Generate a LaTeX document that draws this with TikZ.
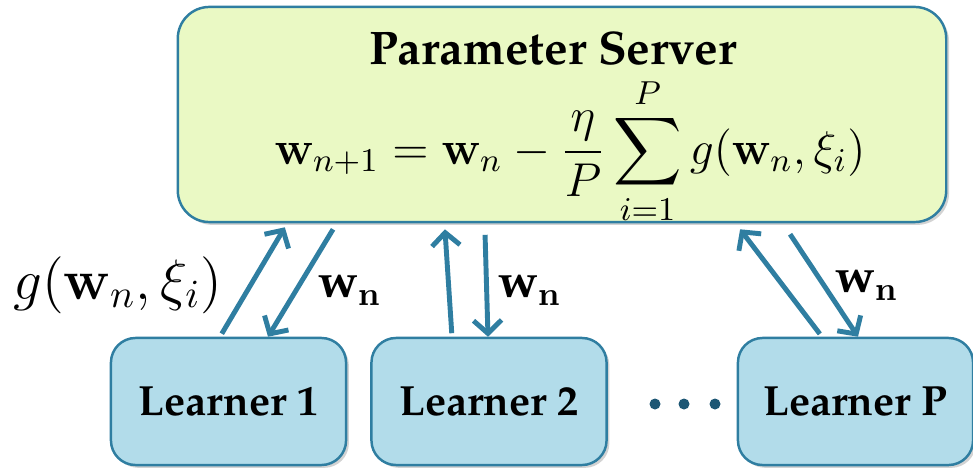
\documentclass[tikz,border=0pt]{standalone}
\usepackage{fix-cm}
\usepackage{amsmath,amssymb,bm}
\usepackage[T1]{fontenc}
\usepackage{tikz}
\usetikzlibrary{arrows.meta,positioning,calc,shadows}
\definecolor{srvfill}{RGB}{234,249,196}
\definecolor{lrnfill}{RGB}{178,220,234}
\definecolor{edgeblue}{RGB}{47,126,161}
\definecolor{dotblue}{RGB}{28,86,116}
\newcommand{\pala}{\fontfamily{ppl}\selectfont}

\begin{document}
\begin{tikzpicture}[
    x=0.01cm,
    y=-0.01cm,
    >={Straight Barb[length=1.3mm,width=2.8mm]},
    srv/.style={
        rounded corners=9pt,
        draw=edgeblue,
        line width=0.7pt,
        fill=srvfill,
        minimum width=7.68cm,
        minimum height=2.15cm,
        drop shadow={shadow xshift=0.8pt,shadow yshift=-0.8pt,opacity=0.35}
    },
    lrn/.style={
        rounded corners=7pt,
        draw=edgeblue,
        line width=0.7pt,
        fill=lrnfill,
        minimum width=2.35cm,
        minimum height=1.27cm,
        font=\pala\bfseries\fontsize{12}{14}\selectfont,
        drop shadow={shadow xshift=0.8pt,shadow yshift=-0.8pt,opacity=0.35}
    },
    link/.style={
        ->,
        line width=1.4pt,
        edgeblue,
        shorten <=1pt
    },
    lbl/.style={
        inner sep=0pt,
        font=\pala\bfseries\fontsize{13.5}{16}\selectfont
    }
]
\useasboundingbox (0,0) rectangle (973,470);

% server
\node[srv] (server) at (562,114.5) {};
\node[inner sep=0pt,font=\pala\bfseries\fontsize{13.4}{16}\selectfont] (title) at (553,48) {Parameter Server};
\node[inner sep=0pt,font=\fontsize{13.5}{16}\selectfont] (rule) at (570,151) {%
    $\displaystyle \mathbf{w}_{n+1}=\mathbf{w}_n-\frac{\eta}{P}\sum_{i=1}^{P} g(\mathbf{w}_n,\xi_i)$};

% learners
\node[lrn] (l1) at (228.5,401.5) {Learner 1};
\node[lrn] (l2) at (489,401.5) {Learner 2};
\node[lrn] (lp) at (855.5,401.5) {Learner P};

\foreach \i/\x in {1/655,2/684,3/715}
    \node[circle,fill=dotblue,inner sep=0pt,minimum size=1.1mm] (d\i) at (\x,404) {};

% links
\draw[link] ([xshift=-0.085cm]l1.north) -- ([xshift=-2.77cm,yshift=-0.04cm]server.south);
\draw[link] ([xshift=-2.27cm,yshift=-0.03cm]server.south) -- ([xshift=0.395cm]l1.north);
\draw[link] ([xshift=-0.37cm]l2.north) -- ([xshift=-1.17cm,yshift=-0.06cm]server.south);
\draw[link] ([xshift=-0.77cm,yshift=-0.08cm]server.south) -- ([xshift=-0.01cm]l2.north);
\draw[link] ([xshift=-0.335cm]lp.north) -- ([xshift=1.78cm,yshift=-0.06cm]server.south);
\draw[link] ([xshift=2.26cm,yshift=-0.08cm]server.south) -- ([xshift=0.025cm]lp.north);

% labels
\node[inner sep=0pt,font=\fontsize{16.2}{19}\selectfont] (grad) at (118,285) {$g(\mathbf{w}_n,\xi_i)$};
\node[lbl] (w1) at (350,290) {w$_{\mathbf{n}}$};
\node[lbl] (w2) at (530,290) {w$_{\mathbf{n}}$};
\node[lbl] (wp) at (867,285) {w$_{\mathbf{n}}$};

\end{tikzpicture}
\end{document}
